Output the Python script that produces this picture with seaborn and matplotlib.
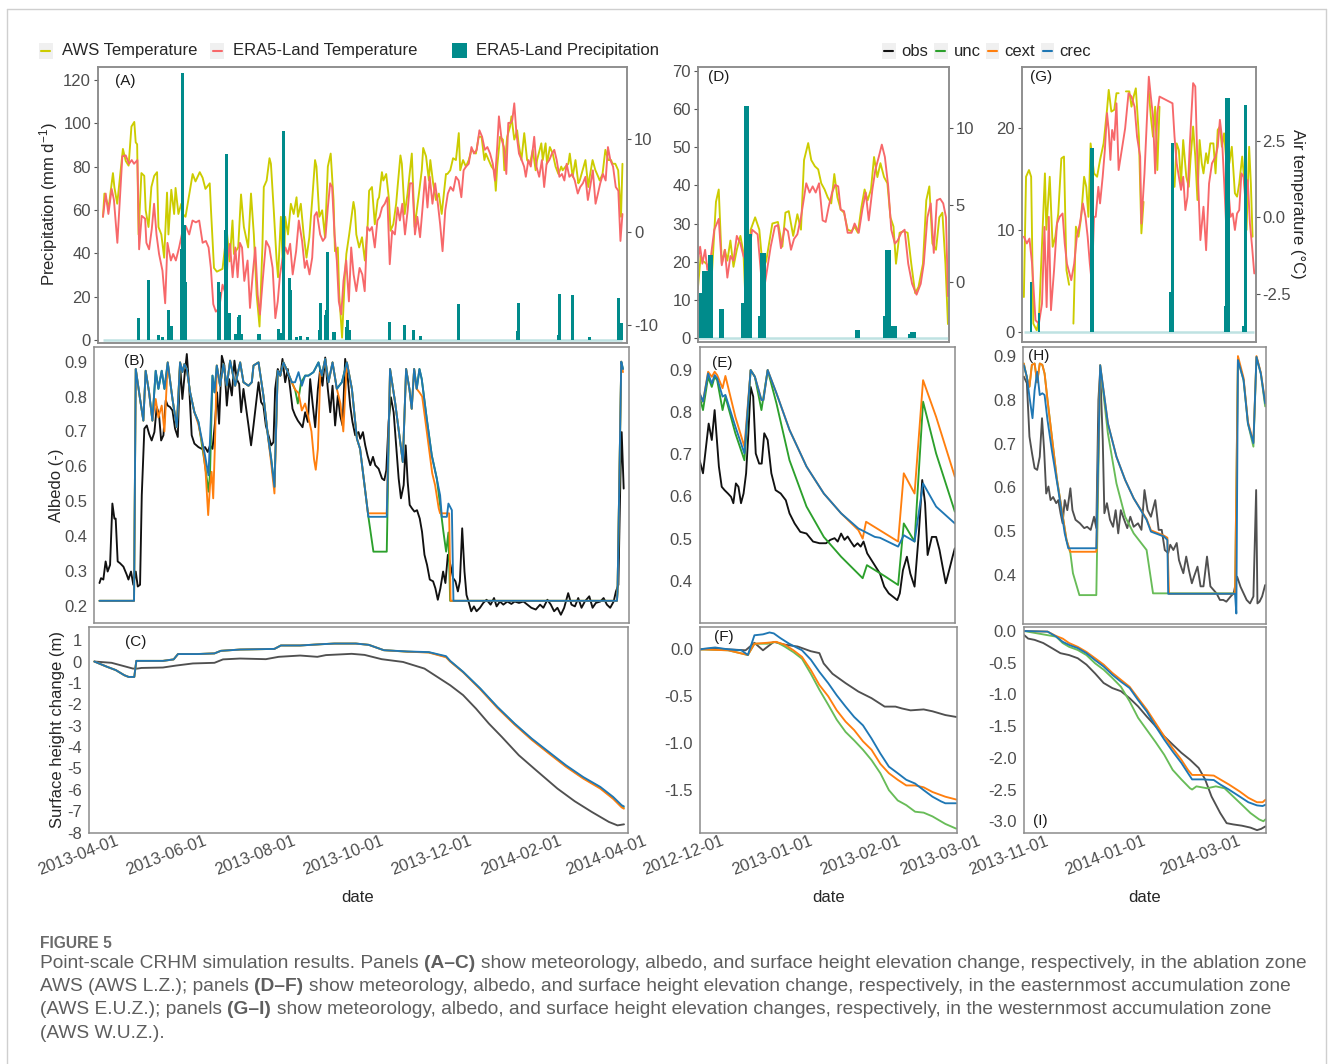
import numpy as np
import pandas as pd
import matplotlib
matplotlib.use("Agg")
import matplotlib.pyplot as plt
import seaborn as sns
from matplotlib import font_manager
from matplotlib.patches import Rectangle
from matplotlib.lines import Line2D
from matplotlib.transforms import ScaledTranslation, blended_transform_factory

# ------------------------------------------------------------------ DATA
START_LZ = "2013-04-01"    # ablation zone AWS (A-C), x = days since start
START_EUZ = "2012-12-01"   # eastern accumulation AWS (D-F)
START_WUZ = "2013-11-01"   # western accumulation AWS (G-I)

TICKS_LZ = ["2013-04-01", "2013-06-01", "2013-08-01", "2013-10-01", "2013-12-01", "2014-02-01", "2014-04-01"]
TICKS_EUZ = ["2012-12-01", "2013-01-01", "2013-02-01", "2013-03-01"]
TICKS_WUZ = ["2013-11-01", "2014-01-01", "2014-03-01"]

# (A) air temperature (deg C) and precipitation (mm/d)
A_aws = [(0,1.6),(1,4.1),(4,2.6),(7,6.3),(8,4.8),(10,3.0),(14,8.9),(16,7.6),(18,7.1),(20,11.3),(22,11.8),(23,9.6),(24,9.4),(25,-0.3),(27,6.3),(29,6.0),(30,2.3),(32,0.5),(34,4.8),(36,6.0),(38,6.4),(39,0.5),(41,-0.3),(43,-2.8),(45,4.2),(46,-0.3),(48,4.5),(50,1.9),(51,4.7),(53,1.9),(55,3.0),(56,1.9),(58,1.6),(63,6.2),(65,5.4),(68,6.4),(70,5.8),(72,4.6),(75,5.2),(76,2.0),(78,-3.9),(80,-4.3),(84,-4.0),(87,0.1),(89,-3.2),(91,1.2),(92,-2.4),(95,-1.7),(97,4.0),(99,0.5),(102,-1.7),(104,4.1),(106,-0.3),(108,-6.8),(110,-10.2),(112,-1.7),(113,4.8),(115,5.5),(117,7.9),(118,7.3),(120,2.3),(122,-3.1),(123,-4.9),(125,1.6),(127,-6.0),(128,1.6),(130,-0.3),(132,3.0),(134,1.9),(136,3.7),(137,1.6),(139,3.0),(141,-0.3),(143,-2.8),(145,-0.6),(147,3.4),(149,7.7),(150,7.0),(152,1.6),(154,2.3),(156,-0.6),(158,7.0),(160,8.4),(162,3.4),(163,-2.1),(165,-1.7),(166,-6.8),(168,-11.4),(170,-4.6),(171,-2.4),(173,-0.3),(176,3.2),(177,2.3),(178,-0.3),(180,-1.7),(182,-0.6),(184,-3.1),(186,0.8),(187,4.4),(189,4.8),(191,0.8),(193,3.4),(194,3.7),(196,6.4),(197,5.5),(199,6.2),(201,3.4),(202,0.1),(204,0.8),(206,3.0),(207,4.8),(209,8.2),(210,7.3),(212,1.9),(214,4.1),(216,7.0),(217,8.4),(219,0.5),(222,4.1),(224,6.6),(225,9.0),(227,8.1),(229,5.5),(230,7.7),(232,5.2),(234,3.4),(236,4.1),(238,1.9),(241,6.2),(242,6.2),(244,6.6),(246,7.9),(248,7.7),(250,10.6),(251,6.6),(253,7.7),(255,7.0),(257,7.7),(259,8.8),(262,8.4),(264,10.2),(266,10.2),(268,7.7),(269,8.4),(271,7.7),(273,7.0),(275,6.6),(276,4.4),(277,7.0),(279,10.2),(281,9.9),(282,6.6),(284,10.2),(286,11.3),(287,12.4),(289,9.9),(291,10.9),(292,9.5),(294,7.7),(296,10.6),(298,7.7),(300,7.3),(302,8.8),(304,6.6),(305,7.7),(308,9.5),(309,7.7),(311,9.5),(312,7.3),(314,9.1),(316,8.4),(318,7.0),(320,6.2),(322,7.0),(323,6.6),(325,7.0),(327,7.3),(328,8.4),(330,5.9),(332,7.7),(334,5.2),(335,5.5),(337,6.6),(339,7.7),(341,4.8),(342,5.9),(344,7.7),(346,6.6),(348,5.9),(349,5.5),(351,6.2),(353,8.8),(355,7.7),(357,7.7),(358,7.3),(360,7.3),(362,6.6),(364,1.6),(365,7.3)]
A_era = [(0,1.6),(1.9,4.1),(3.8,1.9),(6.1,4.6),(7.7,3.4),(10.1,-1.2),(13.6,8.1),(16,8.2),(18.3,7.3),(20.2,7.7),(21.8,7.3),(24.2,7.7),(25.4,-1.9),(27.2,1.7),(29.6,1.4),(30.5,-1.2),(32.4,-1.9),(34.3,0.3),(35.9,3.0),(37.6,-0.3),(39.4,-2.4),(41.8,-4.2),(43.7,-7.7),(45.3,-1.2),(47.7,-3.1),(49.3,-2.4),(51.2,-3.1),(53.5,-1.7),(55.4,-0.3),(58.2,0.6),(60.6,-0.3),(62.9,1.2),(65.3,1.0),(67.6,1.2),(70,-1.2),(72.3,-1.0),(74.2,-1.7),(75.8,-3.9),(77.5,-7.8),(79.3,-8.6),(81.7,-8.2),(84,-5.7),(86.4,-6.8),(87.6,-2.8),(89.2,-1.3),(91.1,-4.9),(93,-1.7),(94.6,-4.9),(96.2,-1.2),(97.7,-1.7),(99.3,-5.3),(101.6,-3.1),(103.3,-8.2),(105.2,-4.6),(107,-1.7),(108.7,-6.8),(110.3,-8.9),(112.2,-5.3),(114.6,-1.0),(116.9,-1.7),(119.2,-3.9),(121.1,-9.3),(122.8,-7.5),(124.4,-4.6),(126.3,-2.8),(128.2,-1.7),(129.8,-2.4),(131.5,-1.3),(133.3,-4.6),(135.7,-2.1),(137.6,1.2),(139.9,-1.0),(141.8,-3.9),(143.2,-3.1),(145.1,-4.6),(147,-2.8),(148.6,1.7),(150.2,2.1),(152.6,-0.3),(154.5,-1.0),(156.3,-0.6),(158,2.6),(159.6,5.2),(161,4.8),(162.7,-0.3),(164.3,-3.1),(165.7,-7.5),(167.4,-8.9),(169,-5.3),(170.9,-3.1),(172.8,-7.5),(174.4,-1.7),(176.1,-4.6),(178,-6.4),(180.3,-3.9),(182.2,-4.6),(183.9,-6.4),(185.7,0.5),(187.4,0.1),(189,0.5),(191,-1.7),(192.8,1.2),(194.4,1.6),(196.1,2.6),(198,3.0),(199.8,3.7),(201.5,-3.5),(203.2,0.1),(205.1,-0.3),(207,2.6),(208.6,1.2),(210.3,3.0),(212.2,-0.3),(214.1,2.3),(215.7,5.2),(217.4,5.2),(219.2,-0.3),(220.9,1.6),(222.8,-0.6),(224.4,2.3),(226.3,5.9),(228,2.6),(229.6,5.9),(231.5,3.0),(233.4,5.2),(235.3,3.0),(236.9,0.8),(238.6,-2.1),(240.5,2.3),(242.3,4.1),(244.2,4.8),(246.1,4.4),(248,5.9),(249.9,5.5),(251.8,3.7),(253.4,6.6),(255.1,7.0),(257,7.3),(258.9,9.1),(260.7,8.4),(262.6,8.8),(264.5,10.9),(266.4,10.2),(268.3,8.8),(270.1,9.1),(272,8.4),(273.9,7.3),(275.4,5.5),(277,9.1),(278.2,12.4),(280.1,9.9),(281.7,9.1),(283.4,6.2),(284.8,11.7),(286.5,11.7),(287.6,12.0),(289,13.8),(290.5,10.6),(292.3,8.4),(294.2,7.7),(295.9,7.0),(297.1,5.9),(298.9,7.7),(300.6,7.0),(303,10.2),(304.6,7.0),(306.5,5.9),(308.4,7.7),(310,4.8),(311.7,7.3),(313.6,7.7),(315.5,8.4),(317.1,8.8),(318.8,7.7),(320.7,5.9),(322.5,6.2),(324.2,5.5),(325.8,7.3),(327.7,5.9),(329.6,6.2),(331.5,5.5),(333.6,4.1),(335.3,4.8),(337.2,5.2),(339,5.9),(340.7,3.4),(342.3,4.8),(344.2,6.6),(346.1,3.0),(347.8,4.1),(349.4,5.2),(351.3,6.2),(353.2,5.5),(354.8,9.1),(356.5,7.7),(358.4,7.0),(360.3,4.8),(362.1,4.4),(363.6,-1.0),(365,1.9)]
A_precip = [(25,10.4),(32,27.6),(39,2.1),(42,1.2),(46,13.8),(48,6.4),(55,42),(56,123.4),(57,53),(58,27),(81,26.8),(82,22),(86,50.6),(87,85.8),(89,12.3),(93,3),(95,10.7),(96,11.5),(97,3),(109,2.8),(110,3),(123,4.9),(125,3.4),(127,96.6),(131,28.4),(132,23),(136,1.2),(139,1.8),(144,1.5),(152,4.6),(153,16.9),(156,11.5),(157,13.8),(158,40.6),(162,3.8),(163,3.8),(171,6.1),(172,9.2),(173,4.6),(201,8.4),(212,6.9),(218,4.6),(223,1.8),(250,16.6),(291,4.3),(292,16.9),(320,2.3),(321,21.1),(330,20.7),(342,1.2),(362,19.6),(364,7.7)]

# (B) albedo
B_obs = [(0,0.265),(1.1,0.279),(2.7,0.275),(4.3,0.327),(5.7,0.298),(7.4,0.317),(9,0.493),(10.4,0.45),(11.3,0.45),(12.7,0.327),(14.3,0.322),(16.7,0.312),(19,0.289),(20.2,0.275),(22,0.298),(23.6,0.26),(25.3,0.298),(26.7,0.255),(28.3,0.26),(29.5,0.517),(31.3,0.708),(33,0.717),(34.6,0.693),(36.4,0.674),(38.3,0.698),(39.9,0.77),(41.5,0.75),(43,0.674),(44.6,0.689),(46.2,0.789),(47.6,0.774),(49.2,0.77),(50.9,0.76),(52.7,0.708),(54.6,0.684),(56.2,0.893),(57.8,0.793),(59.2,0.855),(60.9,0.922),(62.5,0.831),(64.3,0.689),(66.2,0.665),(69,0.655),(71.3,0.65),(73.6,0.655),(75.5,0.641),(77.1,0.66),(78.8,0.65),(80.6,0.727),(82,0.812),(83.4,0.722),(85.3,0.917),(87.1,0.889),(88.8,0.774),(90.4,0.85),(92.3,0.803),(94.1,0.903),(95.7,0.85),(97.4,0.836),(98.8,0.755),(100.4,0.822),(102,0.774),(103.9,0.717),(105.7,0.66),(107.4,0.717),(109,0.774),(110.9,0.841),(112.7,0.784),(114.3,0.774),(116,0.717),(117.8,0.689),(119.7,0.66),(121.3,0.669),(122.5,0.822),(124.3,0.879),(126.2,0.86),(127.6,0.908),(129.5,0.841),(131.3,0.879),(133,0.822),(134.6,0.765),(136.4,0.746),(138.3,0.731),(139.9,0.722),(141.6,0.712),(143.4,0.755),(145.3,0.727),(146.9,0.85),(148.5,0.784),(150.4,0.712),(152.3,0.822),(153.9,0.879),(155.5,0.831),(157.4,0.912),(159.2,0.822),(160.9,0.755),(162.5,0.831),(164.3,0.717),(166.2,0.803),(167.8,0.746),(169.5,0.717),(171.3,0.908),(173.2,0.85),(174.8,0.774),(176.4,0.727),(178.3,0.689),(180.6,0.698),(181.8,0.679),(183.7,0.698),(185.3,0.66),(186.9,0.631),(188.8,0.603),(190.7,0.627),(192.3,0.603),(194.6,0.593),(197,0.565),(198.6,0.56),(200,0.589),(201.6,0.727),(203.2,0.798),(205.1,0.755),(207,0.65),(208.6,0.565),(210.2,0.508),(212.1,0.546),(213.5,0.66),(214.9,0.555),(216.3,0.489),(217.9,0.479),(219.6,0.47),(221.4,0.474),(223.3,0.45),(224.9,0.412),(226.6,0.346),(228.4,0.317),(230.3,0.275),(232.6,0.27),(234.2,0.25),(235.9,0.217),(237.7,0.25),(239.6,0.298),(241.2,0.265),(242.9,0.346),(244.7,0.317),(246.6,0.279),(248.2,0.27),(249.9,0.241),(251.3,0.27),(252.9,0.422),(254.5,0.298),(255.9,0.231),(257.6,0.208),(259.2,0.184),(261.1,0.198),(262.9,0.184),(265.3,0.194),(267.6,0.208),(269.9,0.217),(272.7,0.203),(275.1,0.222),(276.9,0.198),(279.2,0.212),(281.6,0.203),(284.4,0.212),(287.2,0.205),(289.5,0.212),(292.5,0.208),(295.6,0.212),(298.4,0.203),(301.1,0.194),(304.2,0.189),(307.2,0.203),(309.5,0.194),(312.3,0.217),(314.7,0.203),(317,0.184),(319.3,0.194),(321.7,0.174),(324,0.194),(326.8,0.236),(329.1,0.203),(331.5,0.198),(333.8,0.222),(336.1,0.194),(338.4,0.212),(341.5,0.227),(343.8,0.194),(346.1,0.208),(349.2,0.212),(351.5,0.222),(353.8,0.203),(356.1,0.194),(358.5,0.212),(360.1,0.241),(361.8,0.26),(363.2,0.565),(364.1,0.698),(365.5,0.536)]
B_crec = [(0,0.214),(24.1,0.214),(25.3,0.879),(28.3,0.793),(30.6,0.731),(32.2,0.874),(34.6,0.812),(36.9,0.731),(39.2,0.874),(41.1,0.822),(43.4,0.874),(45.3,0.822),(47.6,0.898),(50.9,0.793),(53.9,0.712),(56.2,0.898),(57.8,0.87),(59.2,0.893),(60.9,0.879),(63.2,0.812),(66.2,0.755),(69,0.727),(73.6,0.631),(76,0.574),(77.1,0.679),(78.8,0.86),(80.2,0.812),(81.8,0.889),(84.1,0.831),(86.4,0.893),(88.8,0.831),(91.1,0.903),(94.6,0.831),(98.1,0.898),(100.4,0.841),(103.9,0.831),(106.2,0.841),(107.4,0.889),(110.9,0.898),(114.3,0.803),(117.4,0.689),(119.7,0.622),(122,0.541),(124.3,0.874),(126,0.86),(128.3,0.898),(131.3,0.87),(134.1,0.841),(136.4,0.841),(138.8,0.87),(141.1,0.831),(143.4,0.86),(145.7,0.86),(149.2,0.87),(152.7,0.898),(155,0.86),(157.4,0.908),(159.7,0.841),(162.5,0.898),(165.5,0.822),(169,0.841),(172.5,0.898),(176,0.822),(179.5,0.679),(181.7,0.65),(187.5,0.455),(200.3,0.455),(202.6,0.879),(206.1,0.784),(211.5,0.612),(213.8,0.879),(216.1,0.822),(217.7,0.765),(219.4,0.879),(221.2,0.822),(223.1,0.879),(224.7,0.85),(228.2,0.736),(231.7,0.631),(234.7,0.574),(237.5,0.517),(238.7,0.455),(242.2,0.455),(243.3,0.493),(245.7,0.474),(246.8,0.214),(360.8,0.214),(361.2,0.241),(363.8,0.9),(365,0.879)]
B_cext = [(0,0.214),(24.1,0.214),(25.3,0.879),(28.3,0.793),(30.6,0.731),(32.2,0.874),(34.6,0.812),(36.9,0.731),(39.2,0.793),(41.1,0.74),(43.4,0.774),(45.3,0.70),(47.6,0.898),(50.9,0.793),(53.9,0.712),(56.2,0.898),(57.8,0.87),(59.2,0.893),(60.9,0.879),(63.2,0.812),(66.2,0.755),(69,0.72),(72,0.66),(74,0.584),(75.8,0.46),(77.1,0.546),(78.2,0.584),(79.3,0.508),(80.5,0.66),(81.8,0.889),(84.1,0.831),(86.4,0.893),(88.8,0.831),(91.1,0.903),(94.6,0.831),(98.1,0.898),(100.4,0.841),(103.9,0.831),(106.2,0.841),(107.4,0.889),(110.9,0.898),(114.3,0.803),(117.4,0.689),(119.7,0.61),(122,0.522),(124.3,0.874),(126,0.86),(128.3,0.898),(131.3,0.87),(134.1,0.841),(136.4,0.82),(138.8,0.81),(141.1,0.76),(143.4,0.78),(145.7,0.74),(147.8,0.70),(149.6,0.62),(150.8,0.59),(152.3,0.65),(154,0.87),(155,0.86),(157.4,0.908),(159.7,0.841),(162.5,0.898),(165.5,0.822),(168,0.78),(170,0.70),(172.5,0.898),(176,0.822),(179.5,0.679),(181.7,0.65),(187.2,0.465),(200.3,0.465),(202.6,0.879),(206.1,0.784),(211.5,0.612),(213.8,0.879),(216.1,0.822),(217.7,0.765),(219.4,0.879),(221.2,0.822),(223.1,0.812),(225,0.80),(228.2,0.70),(232,0.58),(234,0.546),(236.5,0.48),(237.5,0.465),(243.8,0.465),(244.8,0.214),(360.8,0.214),(361.2,0.241),(363.8,0.9),(365,0.87)]
B_unc = [(0,0.214),(24.1,0.214),(25.3,0.879),(28.3,0.793),(30.6,0.731),(32.2,0.874),(34.6,0.812),(36.9,0.731),(39.2,0.874),(41.1,0.822),(43.4,0.874),(45.3,0.822),(47.6,0.898),(50.9,0.793),(53.9,0.712),(56.2,0.898),(57.8,0.87),(59.2,0.893),(60.9,0.879),(63.2,0.812),(66.2,0.755),(69,0.727),(73.6,0.603),(76,0.527),(77.1,0.58),(78.3,0.78),(78.8,0.86),(80.2,0.812),(81.8,0.889),(84.1,0.831),(86.4,0.893),(88.8,0.831),(91.1,0.903),(94.6,0.831),(98.1,0.898),(100.4,0.841),(103.9,0.831),(106.2,0.841),(107.4,0.889),(110.9,0.898),(114.3,0.803),(117.4,0.689),(119.7,0.622),(122,0.541),(124.3,0.874),(126,0.86),(128.3,0.898),(131.3,0.87),(134.1,0.841),(136.4,0.82),(138.3,0.78),(140.5,0.84),(143.4,0.86),(145.7,0.86),(149.2,0.87),(152.7,0.898),(155,0.86),(157.4,0.908),(159.7,0.841),(162.5,0.898),(165.5,0.822),(169,0.841),(172.5,0.898),(176,0.822),(179.5,0.679),(181.7,0.65),(187.5,0.455),(191,0.355),(200.3,0.355),(202.6,0.879),(206.1,0.784),(211.5,0.612),(213.8,0.879),(216.1,0.822),(217.7,0.765),(219.4,0.879),(221.2,0.822),(223.1,0.879),(224.7,0.85),(228.2,0.736),(231.7,0.631),(235.2,0.565),(239.8,0.412),(241.7,0.355),(243.3,0.41),(244.5,0.214),(360.8,0.214),(361.2,0.241),(363.8,0.9),(365,0.879)]

# (C) surface height change (m)
C_obs = [(0,0),(11.9,-0.06),(20.7,-0.22),(26.7,-0.33),(29.6,-0.33),(32.6,-0.3),(47.4,-0.28),(56.3,-0.19),(68.1,-0.09),(83,-0.06),(88.9,0.1),(100.7,0.14),(118.5,0.11),(127.4,0.22),(142.2,0.28),(154.1,0.22),(160,0.3),(177.8,0.36),(186.7,0.31),(198.5,0.11),(213.3,-0.02),(228.1,-0.33),(237,-0.72),(245.9,-1.11),(254.8,-1.57),(263.7,-2.2),(272.6,-2.9),(281.5,-3.52),(293.3,-4.38),(305.2,-5.08),(320,-5.94),(331.9,-6.53),(343.7,-7.03),(355.6,-7.5),(361.5,-7.66),(366,-7.61)]
C_crec = [(0,0),(8.9,-0.25),(14.8,-0.4),(20.7,-0.64),(23.7,-0.72),(27.6,-0.72),(29,0.03),(35.6,0.03),(47.4,0.03),(54.8,0.1),(57.8,0.35),(71.1,0.35),(83,0.38),(87.4,0.5),(100.7,0.56),(124.4,0.59),(128.9,0.75),(142.2,0.75),(157,0.81),(165.9,0.84),(180.7,0.84),(189.6,0.78),(200,0.53),(216.3,0.47),(231.1,0.44),(243,0.25),(245.9,0.03),(254.8,-0.48),(266.7,-1.26),(278.5,-2.12),(290.4,-2.9),(302.2,-3.6),(314.1,-4.23),(325.9,-4.85),(337.8,-5.4),(349.6,-5.86),(358.5,-6.33),(364.4,-6.72),(365.9,-6.77)]
C_cext = [(0,0),(8.9,-0.25),(14.8,-0.4),(20.7,-0.64),(23.7,-0.72),(27.6,-0.72),(29,0.03),(35.6,0.03),(47.4,0.03),(54.8,0.1),(57.8,0.35),(71.1,0.35),(83,0.38),(87.4,0.5),(100.7,0.56),(124.4,0.59),(128.9,0.75),(142.2,0.75),(157,0.81),(165.9,0.84),(180.7,0.84),(189.6,0.78),(200,0.53),(216.3,0.46),(231.1,0.42),(243,0.2),(245.9,0.0),(254.8,-0.5),(266.7,-1.3),(278.5,-2.17),(290.4,-2.95),(302.2,-3.66),(314.1,-4.3),(325.9,-4.92),(337.8,-5.47),(349.6,-5.94),(358.5,-6.42),(364.4,-6.82),(365.9,-6.88)]
C_unc = [(0,0),(8.9,-0.25),(14.8,-0.4),(20.7,-0.64),(23.7,-0.72),(27.6,-0.72),(29,0.03),(35.6,0.03),(47.4,0.03),(54.8,0.1),(57.8,0.35),(71.1,0.35),(83,0.38),(87.4,0.5),(100.7,0.56),(124.4,0.59),(128.9,0.75),(142.2,0.75),(157,0.81),(165.9,0.84),(180.7,0.84),(189.6,0.78),(200,0.53),(216.3,0.46),(231.1,0.43),(243,0.22),(245.9,0.01),(254.8,-0.49),(266.7,-1.28),(278.5,-2.14),(290.4,-2.92),(302.2,-3.63),(314.1,-4.27),(325.9,-4.89),(337.8,-5.44),(349.6,-5.9),(358.5,-6.38),(364.4,-6.78),(365.9,-6.84)]

# (D) E.U.Z. meteorology
D_aws = [(0,-0.4),(1,1.7),(1.6,1.4),(3.1,1.2),(5,0.4),(6.5,5.2),(7.5,6.0),(8.6,1.2),(9.7,2.1),(10.6,1.4),(11.7,2.7),(12.8,1.0),(14,2.1),(15.3,3.0),(16.4,1.9),(17.1,-1.1),(17.9,-0.1),(19,3.4),(20.6,4.2),(22.1,3.4),(23.4,0.8),(24.6,1.4),(26.8,3.8),(28.8,3.9),(30.4,2.3),(31.5,4.5),(32.7,4.6),(34.3,3.0),(35.8,4.4),(37.1,3.4),(38.2,7.9),(39.7,9.0),(40.8,7.9),(42.1,7.5),(43.3,7.3),(44.4,6.4),(45.6,6.0),(46.7,5.5),(48,5.1),(49.1,7.0),(50.2,5.5),(51.4,4.7),(52.6,4.5),(53.9,3.4),(55.3,3.3),(56.4,3.6),(57.6,3.2),(58.9,4.9),(60,6.0),(61.1,5.3),(62.3,6.0),(63.4,8.1),(64.6,6.8),(65.7,7.7),(67,6.8),(68.2,6.4),(69.3,4.2),(70.4,3.6),(71.3,1.2),(72.6,3.2),(74,3.3),(75.5,3.2),(76.8,1.2),(78.2,-0.7),(79.4,-0.3),(81,1.2),(82.2,5.3),(83.3,6.2),(84.4,2.5),(85.7,2.1),(86.9,4.2),(88,4.5),(89.1,1.2),(90,-2.7)]
D_era = [(0,1.4),(0.8,2.3),(1.6,1.2),(2.6,2.1),(3.4,0.8),(4.7,1.7),(5.9,3.4),(7.5,4.1),(8.6,1.1),(9.7,2.1),(10.6,0.3),(11.7,1.7),(12.8,1.4),(14,3.0),(15.3,2.5),(16.4,1.7),(17.9,1.2),(19.5,3.4),(21.5,3.1),(23.4,-0.9),(24.9,0.8),(26.2,2.3),(27.7,3.6),(28.8,3.7),(29.9,2.2),(31.2,3.5),(32.4,3.3),(33.5,2.1),(34.6,2.8),(35.8,3.1),(37.1,4.2),(39,6.4),(40.2,5.8),(41.3,6.2),(42.4,5.8),(43.6,6.4),(44.9,4.0),(46,3.9),(47.1,4.9),(48.3,5.8),(49.4,6.3),(50.5,6.2),(51.4,4.7),(52.6,4.6),(53.9,3.2),(55.3,3.2),(56.4,3.8),(57.9,3.2),(59.2,4.7),(60.4,5.8),(61.5,4.0),(62.8,6.0),(63.9,7.3),(65.1,8.1),(66.2,8.9),(67.3,8.1),(68.5,6.2),(69.6,3.4),(70.9,2.5),(71.9,2.7),(73.2,3.2),(74.4,3.4),(75.7,1.2),(77.1,-0.1),(78.7,-0.8),(80.2,-0.1),(81.3,1.2),(82.6,4.2),(83.8,5.1),(84.9,1.9),(86,5.3),(87.2,5.4),(88.3,5.1),(89.3,4.2),(90,-0.9)]
D_precip = [(1,11.8),(2,17.5),(3,17.5),(4,21.8),(5,21.8),(8,7.6),(9,7.6),(16,9.2),(17,60.8),(18,60.8),(19,27.2),(22,5.8),(23,22.4),(24,22.4),(57,2.2),(58,2.2),(67,5.8),(68,23.0),(69,23.0),(70,3.2),(71,3.2),(76,1.0),(77,1.7),(78,1.7)]

# (E) E.U.Z. albedo
E_obs = [(0,0.686),(1.2,0.655),(2.4,0.726),(3.2,0.773),(4.3,0.734),(5.3,0.805),(6.1,0.734),(6.8,0.671),(7.8,0.623),(8.8,0.615),(10,0.607),(11.1,0.599),(11.9,0.584),(12.8,0.631),(13.7,0.623),(14.6,0.584),(15.5,0.607),(16.4,0.655),(17.2,0.75),(18,0.86),(18.9,0.837),(19.8,0.702),(21,0.678),(21.9,0.678),(22.8,0.75),(24,0.734),(25.3,0.655),(26.8,0.615),(28.6,0.607),(30.4,0.591),(31.7,0.56),(33.5,0.536),(35.5,0.516),(37.7,0.512),(40,0.493),(42.3,0.489),(44.6,0.489),(46.1,0.497),(47.6,0.501),(48.7,0.493),(49.9,0.512),(51.1,0.497),(52.2,0.505),(53.3,0.493),(54.5,0.481),(55.7,0.489),(56.8,0.481),(57.8,0.493),(59.1,0.465),(60.6,0.449),(62.1,0.433),(63.6,0.417),(65.1,0.386),(66.7,0.37),(68.2,0.362),(69.7,0.354),(70.6,0.37),(71.7,0.425),(73.1,0.457),(74.3,0.417),(75.8,0.386),(77.3,0.512),(78.5,0.639),(79.5,0.584),(80.4,0.461),(81.9,0.504),(83.4,0.504),(84.6,0.473),(85.7,0.433),(86.8,0.394),(88,0.425),(89.2,0.457),(90,0.477)]
E_unc = [(0,0.837),(1.2,0.805),(3,0.884),(4.3,0.86),(5.3,0.884),(6.2,0.876),(8.1,0.805),(9.1,0.837),(12.6,0.75),(15.8,0.686),(18,0.9),(19.5,0.884),(21.8,0.805),(24,0.9),(27.1,0.821),(31.7,0.686),(37.7,0.576),(43.8,0.504),(49.9,0.457),(57.5,0.406),(59,0.437),(65.5,0.41),(70,0.39),(72,0.536),(75.8,0.493),(78.8,0.825),(83.4,0.702),(90,0.564)]
E_cext = [(0,0.845),(1.2,0.825),(3.0,0.896),(4.3,0.884),(5.3,0.896),(6.2,0.888),(8.1,0.857),(9.1,0.886),(12.6,0.789),(15.8,0.718),(18,0.9),(19.5,0.884),(21.8,0.829),(22.5,0.829),(24,0.9),(27.1,0.845),(31.7,0.758),(37.7,0.671),(43.8,0.607),(49.9,0.56),(56,0.52),(57.5,0.5),(58.7,0.54),(70,0.493),(72,0.655),(75.8,0.607),(78.8,0.876),(83.4,0.789),(90,0.647)]
E_crec = [(0,0.845),(1.2,0.825),(3.0,0.892),(4.3,0.868),(5.3,0.888),(6.2,0.88),(8.1,0.837),(9.1,0.841),(12.6,0.766),(15.8,0.702),(18,0.9),(19.5,0.884),(21.8,0.829),(22.5,0.829),(24,0.9),(27.1,0.845),(31.7,0.758),(37.7,0.671),(43.8,0.607),(49.9,0.56),(56,0.524),(61.8,0.504),(63.6,0.502),(70,0.481),(72,0.508),(75.8,0.493),(78.8,0.631),(83.4,0.576),(90,0.536)]

# (F) E.U.Z. surface height change
F_obs = [(0,0),(5.3,0.01),(9.9,0),(16,-0.01),(19.1,0.07),(22.1,-0.01),(25.9,0.08),(29.7,0.05),(34.3,0.03),(38.9,-0.02),(41.9,-0.04),(43.4,-0.15),(46.5,-0.26),(51.1,-0.36),(55.6,-0.45),(60.2,-0.52),(64.8,-0.61),(68.6,-0.61),(70.9,-0.63),(73.9,-0.65),(78.5,-0.64),(81.6,-0.66),(86.1,-0.7),(89.9,-0.72)]
F_unc = [(0,0),(9.9,-0.01),(16.8,-0.06),(19.1,0.06),(23.6,0.06),(26.7,0.08),(29.7,0.03),(32.8,-0.03),(35.8,-0.1),(38.9,-0.26),(41.9,-0.43),(45,-0.59),(48,-0.75),(51.1,-0.88),(54.1,-0.97),(57.2,-1.07),(60.2,-1.18),(63.3,-1.32),(66.3,-1.5),(69.4,-1.61),(72.4,-1.66),(75.5,-1.73),(78.5,-1.74),(81.6,-1.78),(86.1,-1.86),(89.9,-1.91)]
F_cext = [(0,0),(9.9,-0.01),(16.8,-0.06),(19.1,0.06),(23.6,0.07),(26.7,0.08),(29.7,0.05),(32.8,-0.01),(35.8,-0.08),(38.9,-0.22),(41.9,-0.38),(45,-0.5),(48,-0.65),(51.1,-0.77),(54.1,-0.86),(57.2,-0.98),(60.2,-1.07),(63.3,-1.22),(66.3,-1.32),(69.4,-1.39),(72.4,-1.45),(75.5,-1.45),(78.5,-1.47),(81.6,-1.52),(86.1,-1.57),(89.9,-1.6)]
F_crec = [(0,0),(2.3,0.01),(5.3,0.02),(9.9,0),(14.5,-0.01),(16.8,-0.06),(19.1,0.15),(22.1,0.16),(24.4,0.18),(25.9,0.17),(28.2,0.12),(31.3,0.06),(35.8,-0.01),(38.9,-0.11),(41.9,-0.24),(45,-0.36),(48,-0.49),(51.1,-0.61),(54.1,-0.72),(57.2,-0.81),(60.2,-0.95),(63.3,-1.11),(66.3,-1.25),(69.4,-1.32),(72.4,-1.39),(75.5,-1.43),(78.5,-1.5),(81.6,-1.57),(84.6,-1.62),(86.1,-1.64),(89.9,-1.64)]

# (G) W.U.Z. meteorology (AWS record has gaps -> segments)
G_aws_segments = [
    [(1.4,-2.6),(2.8,1.33),(4.7,1.55),(6.1,1.33),(7.5,-3.47),(9.7,-3.69),(11.1,-3.36),(15,1.44),(15.9,-0.4),(18.1,1.33),(20,-0.96),(21.7,-0.63),(23.6,0.13),(25.6,1.93),(27.3,1.99),(28.9,-1.72),(30.6,-2.2)],
    [(33.4,-3.47),(35,-0.3),(36.7,-0.63),(38.4,0.02),(40.3,1.33),(41.7,1.0),(43.1,0.02),(44.5,2.42),(46.7,1.44),(48.7,1.33),(50.6,1.88),(52.9,2.42),(55.1,3.52),(56.2,4.17),(57.9,3.46),(59.8,3.52),(61.2,4.06),(62.6,4.06)],
    [(67.3,4.12),(69.5,4.12),(70.9,3.62),(72.3,3.95),(73.7,4.22),(75.7,2.64),(77.3,-0.52),(78.7,0.51)],
    [(82.1,4.12),(83.4,3.3),(84.8,2.64),(86.2,3.62),(87.6,1.55),(89,3.62)],
    [(98.7,1.0),(100.1,2.42),(101.5,2.2),(102.9,1.11),(104.3,2.53),(106.3,1.33),(107.9,1.0),(109,1.88),(110.7,2.97),(112.1,1.99),(113.5,0.57),(114.9,2.53),(116.3,1.77),(117.4,1.44),(119.1,2.1),(120.2,1.77),(121.8,2.42),(123.8,2.42),(125.2,1.44),(126.6,2.86),(128,2.97),(129.3,2.31),(130.7,2.75),(132.1,1.88),(134.1,1.77),(135.7,2.31),(137.7,0.79),(139.1,0.68),(140.5,1.11),(142.4,1.99),(144.1,1.0),(145.2,-0.41),(146.9,2.31),(148,1.11),(149.1,-0.63)],
]
G_era = [(1.4,-0.63),(3.3,-0.85),(5,-0.69),(6.7,-1.51),(8.9,-3.36),(11.1,-3.47),(13.1,-2.82),(14.7,-0.31),(16.1,-2.93),(17.5,0.02),(18.9,-3.03),(20.9,-1.72),(22.8,-0.2),(24.5,0.02),(26.4,0.13),(27.8,-0.85),(29.2,-1.51),(32,-2.05),(33.9,-1.51),(35.6,-0.63),(37.6,-0.2),(39.5,0.46),(41.2,0.02),(42.6,-0.63),(44,-1.51),(45.3,-2.16),(46.7,0.02),(47.8,0.02),(49.5,1.0),(50.6,0.46),(52.3,1.33),(53.7,2.2),(55.1,3.41),(56.2,2.86),(57.3,1.88),(58.4,2.86),(59.8,2.53),(61.2,3.73),(62.6,1.55),(66.8,2.91),(69,4.06),(70.9,3.95),(72.9,3.62),(74.5,2.64),(76.5,1.99),(77.3,-0.2),(79.3,1.44),(82.1,4.6),(83.4,3.95),(84.8,3.3),(86.2,1.44),(87.6,3.41),(89,3.95),(97.4,3.73),(98.7,2.64),(100.1,1.77),(101.5,1.33),(102.9,0.9),(104.3,1.33),(105.7,0.24),(107.1,0.68),(108.5,2.31),(110.7,4.39),(112.1,4.28),(113.5,1.77),(115.4,-0.74),(117.4,0.35),(119.1,-1.07),(121,1.11),(122.9,1.77),(125.2,1.99),(126.6,2.31),(128,3.19),(129.3,2.64),(130.7,1.22),(132.1,-0.31),(133.5,0.9),(134.9,0.02),(136.3,0.13),(137.7,-0.41),(139.1,0.13),(140.5,0.24),(141.9,1.44),(143.3,1.33),(144.6,0.46),(146,1.22),(147.4,-0.2),(148.8,-0.96),(150.2,-1.83)]
G_precip = [(6,4.9),(11,1.8),(45,18.0),(46,18.0),(96,3.9),(97,18.5),(98,18.5),(131,2.5),(132,22.9),(133,22.9),(134,22.9),(143,0.6),(144,22.2),(145,22.2)]

# (H) W.U.Z. albedo
H_obs = [(0.5,0.853),(2.4,0.838),(4,0.716),(5.6,0.678),(7.2,0.644),(8.8,0.64),(10.4,0.67),(11.8,0.758),(13.1,0.686),(14.4,0.586),(15.8,0.602),(17.1,0.571),(18.7,0.578),(20.6,0.564),(21.9,0.571),(23.3,0.541),(24.6,0.518),(25.9,0.571),(27.5,0.548),(29.4,0.598),(30.7,0.548),(32.6,0.526),(35.3,0.518),(38,0.507),(39.8,0.51),(42,0.503),(44.1,0.533),(45.5,0.507),(46.8,0.80),(47.9,0.868),(49.5,0.708),(50.5,0.541),(52.1,0.564),(54,0.526),(55.9,0.51),(57.5,0.548),(59.1,0.495),(60.7,0.548),(62.8,0.526),(64.7,0.507),(66.6,0.533),(68.7,0.51),(71.4,0.518),(73.5,0.503),(75.4,0.594),(77.3,0.548),(79.4,0.533),(82.1,0.571),(84.2,0.503),(86.1,0.503),(88,0.457),(90.1,0.45),(91.4,0.469),(93.3,0.457),(95.4,0.473),(96.8,0.434),(98.1,0.419),(99.5,0.404),(101.3,0.442),(102.9,0.412),(104.8,0.381),(106.1,0.396),(108.3,0.419),(110.2,0.374),(112,0.374),(114.2,0.442),(116.3,0.374),(118.2,0.366),(120.1,0.358),(122.2,0.343),(124.3,0.343),(126.2,0.339),(128.9,0.351),(130.7,0.358),(132.9,0.396),(135,0.373),(136.9,0.358),(138.8,0.343),(140.9,0.335),(143,0.351),(144.7,0.594),(145.5,0.335),(146.8,0.339),(148.4,0.351),(150.3,0.377)]
H_unc = [(0.5,0.883),(2.4,0.85),(4,0.83),(5.5,0.88),(7.2,0.883),(8.8,0.84),(10.4,0.883),(12,0.88),(13.4,0.86),(15.2,0.80),(21,0.62),(27,0.48),(29.4,0.45),(31,0.404),(35,0.354),(45.5,0.354),(47.9,0.879),(52.7,0.723),(58,0.609),(63.4,0.533),(68.7,0.495),(76.7,0.457),(80.7,0.358),(131.6,0.358),(133.4,0.891),(136.9,0.845),(139.6,0.746),(143,0.693),(144.9,0.898),(147.6,0.86),(150.3,0.785)]
H_cext = [(0.5,0.883),(2.4,0.85),(4,0.83),(5.5,0.88),(7.2,0.883),(8.8,0.84),(10.4,0.883),(12,0.88),(13.4,0.86),(15.2,0.80),(21,0.62),(27,0.48),(29.4,0.453),(45.5,0.453),(47.9,0.879),(52.7,0.746),(58,0.67),(63.4,0.617),(68.7,0.575),(76.7,0.528),(79.4,0.502),(87.4,0.49),(89.6,0.485),(90.6,0.357),(131.6,0.357),(133.4,0.9),(136.9,0.85),(139.6,0.75),(143,0.703),(144.9,0.9),(147.6,0.862),(150.3,0.795)]
H_crec = [(0.5,0.879),(2.4,0.853),(4,0.807),(5.9,0.758),(7.2,0.822),(8.8,0.864),(10.4,0.811),(12,0.815),(13.4,0.811),(15.2,0.754),(17.9,0.685),(21.9,0.594),(25.9,0.495),(28.1,0.461),(45.5,0.461),(47.9,0.879),(52.7,0.746),(58,0.67),(63.4,0.617),(68.7,0.575),(76.7,0.526),(79.4,0.499),(87.4,0.488),(89.6,0.48),(90.1,0.357),(131.6,0.357),(132.4,0.312),(133.4,0.891),(136.9,0.845),(139.6,0.746),(143,0.701),(144.9,0.898),(147.6,0.86),(150.3,0.792)]

# (I) W.U.Z. surface height change
I_obs = [(0,-0.06),(2.7,-0.12),(6.7,-0.14),(12.1,-0.19),(17.5,-0.27),(22.8,-0.35),(28.2,-0.38),(33.6,-0.43),(39,-0.53),(44.4,-0.67),(49.7,-0.82),(55.1,-0.9),(60.5,-0.95),(65.9,-1.06),(71.2,-1.19),(76.6,-1.35),(82,-1.5),(87.4,-1.66),(92.7,-1.79),(98.1,-1.92),(103.5,-2.03),(108.9,-2.16),(112.9,-2.34),(116.9,-2.61),(122.3,-2.87),(126.3,-3.03),(130.4,-3.05),(135.8,-3.07),(141.1,-3.1),(145.2,-3.14),(147.8,-3.12),(150.5,-3.08)]
I_unc = [(0,0),(20.2,-0.09),(24.2,-0.19),(28.2,-0.25),(33.6,-0.3),(39,-0.38),(44.4,-0.51),(49.7,-0.61),(55.1,-0.74),(60.5,-0.88),(65.9,-1.11),(71.2,-1.37),(76.6,-1.56),(82,-1.75),(87.4,-1.95),(92.7,-2.19),(98.1,-2.34),(103.5,-2.48),(104.8,-2.5),(107.5,-2.45),(114.2,-2.48),(119.6,-2.45),(125,-2.48),(130.4,-2.61),(135.8,-2.74),(141.1,-2.87),(146.5,-2.97),(149.2,-3.0),(150.5,-2.97)]
I_cext = [(0,0),(14.8,-0.01),(20.2,-0.08),(24.2,-0.12),(28.2,-0.19),(33.6,-0.25),(39,-0.33),(44.4,-0.43),(49.7,-0.53),(55.1,-0.66),(60.5,-0.77),(65.9,-0.88),(71.2,-1.06),(76.6,-1.24),(82,-1.45),(87.4,-1.66),(92.7,-1.85),(98.1,-2.03),(102.2,-2.19),(104.8,-2.27),(111.6,-2.27),(118.3,-2.28),(122.3,-2.34),(127.7,-2.42),(134.4,-2.53),(139.8,-2.63),(145.2,-2.7),(148.7,-2.7),(150.5,-2.66)]
I_crec = [(0,0),(14.8,-0.01),(20.2,-0.09),(24.2,-0.17),(28.2,-0.22),(33.6,-0.27),(39,-0.35),(44.4,-0.46),(49.7,-0.56),(55.1,-0.69),(60.5,-0.8),(65.9,-0.9),(71.2,-1.09),(76.6,-1.27),(82,-1.5),(87.4,-1.71),(92.7,-1.9),(98.1,-2.08),(102.2,-2.24),(104.8,-2.34),(111.6,-2.34),(118.3,-2.35),(122.3,-2.42),(127.7,-2.5),(134.4,-2.61),(139.8,-2.7),(145.2,-2.75),(148.7,-2.76),(150.5,-2.74)]

CAPTION_LINES = [
    [("Point-scale CRHM simulation results. Panels", False), (" ", False), ("(A\u2013C)", True), (" ", False),
     ("show meteorology, albedo, and surface height elevation change, respectively, in the ablation zone", False)],
    [("AWS (AWS L.Z.); panels", False), (" ", False), ("(D\u2013F)", True), (" ", False),
     ("show meteorology, albedo, and surface height elevation change, respectively, in the easternmost accumulation zone", False)],
    [("(AWS E.U.Z.); panels", False), (" ", False), ("(G\u2013I)", True), (" ", False),
     ("show meteorology, albedo, and surface height elevation changes, respectively, in the westernmost accumulation zone", False)],
    [("(AWS W.U.Z.).", False)],
]

# ------------------------------------------------------------------ STYLE
sns.set_theme(style="white")
fams = {f.name for f in font_manager.fontManager.ttflist}
BASE = "Liberation Sans" if "Liberation Sans" in fams else "DejaVu Sans"
CAPF = "Liberation Sans Narrow" if "Liberation Sans Narrow" in fams else BASE
plt.rcParams["font.family"] = [BASE, "DejaVu Sans"]
plt.rcParams["axes.unicode_minus"] = False
plt.rcParams["mathtext.fontset"] = "custom"
plt.rcParams["mathtext.rm"] = BASE
plt.rcParams["mathtext.it"] = BASE + ":italic"
plt.rcParams["mathtext.bf"] = BASE + ":bold"
plt.rcParams["mathtext.default"] = "regular"

AWS_C = "#CCCC00"
ERA_C = "#F7686A"
TEAL = "#008B8B"
ZERO_C = "#BFE2E2"
OBS_DARK = "#111111"
OBS_GRAY = "#505050"
UNC_DARK = "#2CA02C"
UNC_LIGHT = "#68BC58"
CEXT_C = "#FF7F0E"
CREC_C = "#1F77B4"
SPINE_C = "#8C8C8C"
TICKLAB_C = "#4D4D4D"

W, H = 1333, 1064
fig = plt.figure(figsize=(W / 100, H / 100), dpi=100)


def fx(x):
    return x / W


def fy(y):
    return 1 - y / H


def make_ax(l, t, r, b):
    return fig.add_axes([fx(l), fy(b), (r - l) / W, (b - t) / H])


def style(ax):
    for s in ax.spines.values():
        s.set_color(SPINE_C)
        s.set_linewidth(1.1)
    ax.tick_params(axis="both", length=3, width=0.8, color="#555555", labelsize=12,
                   labelcolor=TICKLAB_C, pad=2)
    ax.grid(False)
    ax.set_xlabel("")
    ax.set_ylabel("")


def dday(start, s):
    return (pd.Timestamp(s) - pd.Timestamp(start)).days


def line(ax, pairs, color, lw=1.35):
    d = [p[0] for p in pairs]
    v = [p[1] for p in pairs]
    sns.lineplot(x=d, y=v, ax=ax, color=color, linewidth=lw, estimator=None, sort=False, legend=False)


def seg_line(ax, segments, color, lw=1.35):
    rows = []
    for k, seg in enumerate(segments):
        for d, v in seg:
            rows.append((k, d, v))
    df = pd.DataFrame(rows, columns=["seg", "day", "val"])
    sns.lineplot(data=df, x="day", y="val", units="seg", estimator=None, sort=False,
                 color=color, linewidth=lw, legend=False, ax=ax)


def bars(ax, pairs, width):
    d = [p[0] for p in pairs]
    v = [p[1] for p in pairs]
    ax.bar(d, v, width=width, align="center", color=TEAL, linewidth=0, zorder=3)


def xticks(ax, start, dates, positions=None, labels=False):
    pos = positions if positions is not None else [dday(start, s) for s in dates]
    ax.set_xticks(pos)
    ax.set_xticklabels([])
    if labels:
        tr = blended_transform_factory(ax.transData, ax.transAxes) + \
            ScaledTranslation(21 / 100, 0 / 100, fig.dpi_scale_trans)
        for p, s in zip(pos, dates):
            ax.text(p, 0, s, transform=tr, rotation=21, rotation_mode="anchor", ha="right", va="top",
                    fontsize=12, color=TICKLAB_C, clip_on=False)


def yticks(ax, vals, fmt):
    ax.set_yticks(vals)
    ax.set_yticklabels([fmt.format(v) for v in vals])


def precip_panel(box, start, aws, era, precip, plim, a, b, lticks, rticks, rfmt, bar_w, aws_segments=None):
    ax = make_ax(*box)
    ax2 = ax.twinx()
    ax.set_zorder(2)
    ax2.set_zorder(1)
    ax.patch.set_visible(False)
    if aws_segments is not None:
        seg_line(ax2, aws_segments, AWS_C)
    else:
        line(ax2, aws, AWS_C)
    line(ax2, era, ERA_C)
    bars(ax, precip, bar_w)
    if aws_segments is not None:
        days = [p[0] for s in aws_segments for p in s] + [p[0] for p in era]
    else:
        days = [p[0] for p in aws] + [p[0] for p in era]
    ax.hlines(0, min(days), max(days), color=ZERO_C, lw=1.8, zorder=2)
    ax.set_ylim(*plim)
    ax2.set_ylim((plim[0] - b) / a, (plim[1] - b) / a)
    yticks(ax, lticks, "{:g}")
    yticks(ax2, rticks, rfmt)
    style(ax)
    style(ax2)
    return ax, ax2


# ------------------------------------------------------------------ PANELS
# A
axA, axA2 = precip_panel((98, 66.7, 627, 343.3), START_LZ, A_aws, A_era, A_precip, (-1.5, 126.1),
                         4.29, 50.0, [0, 20, 40, 60, 80, 100, 120], [-10, 0, 10], "{:g}", 2.1)
axA.set_xlim(-3.5, 368.2)
xticks(axA, START_LZ, TICKS_LZ)

# B
axB = make_ax(94.3, 346.7, 629, 623.3)
line(axB, B_obs, OBS_DARK)
line(axB, B_unc, UNC_DARK)
line(axB, B_cext, CEXT_C)
line(axB, B_crec, CREC_C)
axB.set_xlim(-3.6, 369.2)
axB.set_ylim(0.1495, 0.943)
yticks(axB, [0.2, 0.3, 0.4, 0.5, 0.6, 0.7, 0.8, 0.9], "{:.1f}")
xticks(axB, START_LZ, TICKS_LZ)
style(axB)

# C
axC = make_ax(88.7, 627.3, 628.5, 833.3)
line(axC, C_obs, OBS_GRAY)
line(axC, C_unc, UNC_LIGHT)
line(axC, C_cext, CEXT_C)
line(axC, C_crec, CREC_C)
axC.set_xlim(-3.9, 369.1)
axC.set_ylim(-8.03, 1.6)
yticks(axC, list(range(1, -9, -1)), "{:d}")
style(axC)
xticks(axC, START_LZ, TICKS_LZ, labels=True)

# D
axD, axD2 = precip_panel((697.9, 66.7, 948.5, 342.3), START_EUZ, D_aws, D_era, D_precip, (-1.05, 71.1),
                         4.05, 14.66, [0, 10, 20, 30, 40, 50, 60, 70], [0, 5, 10], "{:g}", 1.0)
axD.set_xlim(0, 90.2)
xticks(axD, START_EUZ, TICKS_EUZ)

# E
axE = make_ax(699.6, 347.3, 955.4, 623.3)
line(axE, E_obs, OBS_DARK)
line(axE, E_unc, UNC_DARK)
line(axE, E_cext, CEXT_C)
line(axE, E_crec, CREC_C)
axE.set_xlim(0, 90.2)
axE.set_ylim(0.299, 0.954)
yticks(axE, [0.4, 0.5, 0.6, 0.7, 0.8, 0.9], "{:.1f}")
xticks(axE, START_EUZ, TICKS_EUZ)
style(axE)

# F
axF = make_ax(700, 627.3, 957, 833.3)
line(axF, F_obs, OBS_GRAY)
line(axF, F_unc, UNC_LIGHT)
line(axF, F_cext, CEXT_C)
line(axF, F_crec, CREC_C)
axF.set_xlim(0, 90.2)
axF.set_ylim(-1.96, 0.235)
yticks(axF, [0.0, -0.5, -1.0, -1.5], "{:.1f}")
style(axF)
xticks(axF, START_EUZ, TICKS_EUZ, labels=True)

# G
WUZ_SPAN = dday(START_WUZ, "2014-04-01")
GH_TICKS = list(np.linspace(0, WUZ_SPAN, 5))
axG, axG2 = precip_panel((1021.7, 66.7, 1255.5, 342.3), START_WUZ, None, G_era, G_precip, (-1.04, 25.98),
                         3.0, 11.2, [0, 10, 20], [-2.5, 0.0, 2.5], "{:.1f}", 1.2, aws_segments=G_aws_segments)
axG.set_xlim(0, WUZ_SPAN)
xticks(axG, START_WUZ, [], positions=GH_TICKS)

# H
axH = make_ax(1023, 347.3, 1266.3, 624)
line(axH, H_obs, OBS_GRAY)
line(axH, H_unc, UNC_LIGHT)
line(axH, H_cext, CEXT_C)
line(axH, H_crec, CREC_C)
axH.set_xlim(0, WUZ_SPAN)
axH.set_ylim(0.288, 0.92)
yticks(axH, [0.4, 0.5, 0.6, 0.7, 0.8, 0.9], "{:.1f}")
xticks(axH, START_WUZ, [], positions=GH_TICKS)
style(axH)

# I
axI = make_ax(1023.8, 627.3, 1266.3, 833.3)
line(axI, I_obs, OBS_GRAY)
line(axI, I_unc, UNC_LIGHT)
line(axI, I_cext, CEXT_C)
line(axI, I_crec, CREC_C)
axI.set_xlim(0, WUZ_SPAN)
axI.set_ylim(-3.19, 0.058)
yticks(axI, [0.0, -0.5, -1.0, -1.5, -2.0, -2.5, -3.0], "{:.1f}")
style(axI)
xticks(axI, START_WUZ, TICKS_WUZ, labels=True)

# ------------------------------------------------------------------ TEXT / LEGENDS
for lab, (x, y) in {"(A)": (125, 81), "(B)": (134, 361), "(C)": (136, 642), "(D)": (719, 77),
                    "(E)": (722, 363), "(F)": (724, 637), "(G)": (1041, 77), "(H)": (1039, 356),
                    "(I)": (1040, 821)}.items():
    fig.text(fx(x), fy(y), lab, fontsize=11, color="#1a1a1a", ha="center", va="center")

fig.text(fx(49), fy(204), "Precipitation (mm d$^{-1}$)", rotation=90, fontsize=12, ha="center", va="center")
fig.text(fx(56), fy(485), "Albedo (-)", rotation=90, fontsize=12, ha="center", va="center")
fig.text(fx(57.5), fy(730), "Surface height change (m)", rotation=90, fontsize=12, ha="center", va="center")
fig.text(fx(1298), fy(204), "Air temperature (\u00b0C)", rotation=270, fontsize=12, ha="center", va="center")
for x in (358, 829, 1145):
    fig.text(fx(x), fy(898), "date", fontsize=12, ha="center", va="center")


def key_box(x0, x1, y0, y1, color="#F0F0F0"):
    fig.add_artist(Rectangle((fx(x0), fy(y1)), (x1 - x0) / W, (y1 - y0) / H, transform=fig.transFigure,
                             facecolor=color, edgecolor="none"))


def key_line(x0, x1, y, color):
    fig.add_artist(Line2D([fx(x0 + 2.5), fx(x1 - 2.5)], [fy(y), fy(y)], transform=fig.transFigure,
                          color=color, lw=1.5))


LEG_Y = 51
for (x0, txt_x, label, col) in [(38.5, 62, "AWS Temperature", AWS_C), (210, 233, "ERA5-Land Temperature", ERA_C)]:
    key_box(x0, x0 + 14, 43, 59)
    key_line(x0, x0 + 14, LEG_Y, col)
    fig.text(fx(txt_x), fy(LEG_Y), label, fontsize=12, ha="left", va="center")
key_box(452, 467, 43.5, 58.5, TEAL)
fig.text(fx(476), fy(LEG_Y), "ERA5-Land Precipitation", fontsize=12, ha="left", va="center")

for (x0, txt_x, label, col) in [(881.8, 901, "obs", OBS_DARK), (933.8, 953.7, "unc", UNC_DARK),
                                (985.5, 1004.5, "cext", CEXT_C), (1040.6, 1059.6, "crec", CREC_C)]:
    key_box(x0, x0 + 13.8, 43, 59)
    key_line(x0, x0 + 13.8, LEG_Y, col)
    fig.text(fx(txt_x), fy(LEG_Y), label, fontsize=12, ha="left", va="center")

# outer frame
for xs, ys in [((7, 7), (9, 1064)), ((7, 1326), (9, 9)), ((1326, 1326), (9, 1064))]:
    fig.add_artist(Line2D([fx(xs[0]), fx(xs[1])], [fy(ys[0]), fy(ys[1])], transform=fig.transFigure,
                          color="#CFCFCF", lw=1.0))

# caption
renderer = fig.canvas.get_renderer()


def text_w(s, size, bold):
    t = fig.text(0, 0, s, fontsize=size, fontweight="bold" if bold else "normal", family=CAPF)
    w = t.get_window_extent(renderer).width
    t.remove()
    return w


def space_w(size):
    return text_w("a a", size, False) - text_w("aa", size, False)


def line_w(runs, size):
    return sum(space_w(size) if t == " " else text_w(t, size, b) for t, b in runs)


cap_size = 12.0 * 1269.0 / line_w(CAPTION_LINES[0], 12.0)
cap_size = max(9.0, min(cap_size, 14.0))

fig.text(fx(40), fy(944), "FIGURE 5", fontsize=cap_size * 0.82, fontweight="bold", family=CAPF,
         color="#6B6B6B", ha="left", va="center")
for runs, yc in zip(CAPTION_LINES, (963.5, 986.5, 1010, 1033)):
    x = 40.0
    for t, b in runs:
        if t == " ":
            x += space_w(cap_size)
            continue
        tt = fig.text(fx(x), fy(yc), t, fontsize=cap_size, fontweight="bold" if b else "normal",
                      family=CAPF, color="#5E5E5E", ha="left", va="center")
        x += tt.get_window_extent(renderer).width

fig.savefig("out.png", dpi=100)
